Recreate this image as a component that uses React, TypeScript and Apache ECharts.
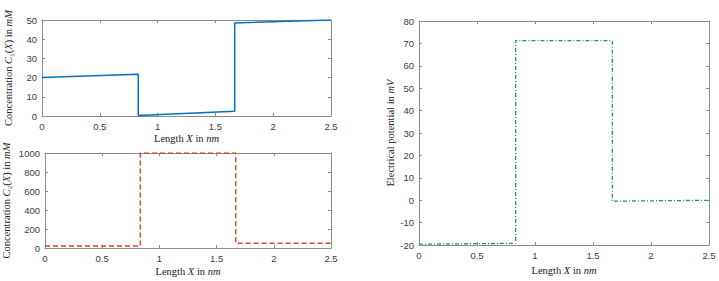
import React, { useEffect, useRef } from "react";
import * as echarts from "echarts";

const xTicks = [0, 0.5, 1, 1.5, 2, 2.5];
const c1Points: [number, number][] = [
  [0, 20], [0.833, 21.7], [0.833, 0.3], [1.667, 2.5], [1.667, 48.5], [2.5, 50],
];
const c2Points: [number, number][] = [
  [0, 20], [0.833, 20], [0.833, 1000], [1.667, 1000], [1.667, 50], [2.5, 50],
];
const phiPoints: [number, number][] = [
  [0, -19.6], [0.833, -19.2], [0.833, 71.2], [1.667, 71.2], [1.667, -0.4], [2.5, 0],
];

const AX = "#8a8a8a";
const LBL = "#3c3c3c";
const SERIF = "Liberation Serif, DejaVu Serif, serif";
const SANS = "Liberation Sans, Arial, sans-serif";

const rich = {
  i: { fontStyle: "italic", fontFamily: SERIF, fontSize: 10.5, color: "#222" },
};

function xPair(grid: number, gap: number) {
  const base = {
    type: "value" as const,
    gridIndex: grid,
    min: xTicks[0],
    max: xTicks[xTicks.length - 1],
    interval: 0.5,
    splitLine: { show: false },
    axisLine: { show: true, onZero: false, lineStyle: { color: AX, width: 1 } },
    axisTick: { show: true, inside: true, length: 3, lineStyle: { color: AX } },
  };
  return [
    {
      ...base,
      position: "bottom",
      axisLabel: { color: LBL, fontFamily: SANS, fontSize: 9.5, margin: 5 },
      name: "Length {i|X} in {i|nm}",
      nameLocation: "middle",
      nameGap: gap,
      nameTextStyle: { fontFamily: SERIF, fontSize: 10.5, color: "#222", rich },
    },
    { ...base, position: "top", axisLabel: { show: false } },
  ];
}

function yPair(grid: number, min: number, max: number, interval: number, name: string, gap: number) {
  const base = {
    type: "value" as const,
    gridIndex: grid,
    min,
    max,
    interval,
    splitLine: { show: false },
    axisLine: { show: true, onZero: false, lineStyle: { color: AX, width: 1 } },
    axisTick: { show: true, inside: true, length: 3, lineStyle: { color: AX } },
  };
  return [
    {
      ...base,
      position: "left",
      axisLabel: {
        color: LBL,
        fontFamily: SANS,
        fontSize: 9.5,
        margin: 5,
        formatter: (v: number) => String(v),
      },
      name,
      nameLocation: "middle",
      nameGap: gap,
      nameRotate: 90,
      nameTextStyle: { fontFamily: SERIF, fontSize: 10.5, color: "#222", rich },
    },
    { ...base, position: "right", axisLabel: { show: false } },
  ];
}

export default function App() {
  const ref = useRef<HTMLDivElement>(null);
  useEffect(() => {
    if (!ref.current) return;
    const chart = echarts.init(ref.current, undefined, { renderer: "svg" });
    chart.setOption({
      animation: false,
      backgroundColor: "#ffffff",
      grid: [
        { left: 42, width: 289, top: 20, height: 96 },
        { left: 42, width: 289, top: 153, height: 95 },
        { left: 419, width: 290, top: 21, height: 226 },
      ],
      xAxis: [...xPair(0, 17), ...xPair(1, 18), ...xPair(2, 19)],
      yAxis: [
        ...yPair(0, 0, 50, 10, "Concentration {i|C}₁({i|X}) in {i|mM}", 28),
        ...yPair(1, 0, 1000, 200, "Concentration {i|C}₂({i|X}) in {i|mM}", 33),
        ...yPair(2, -20, 80, 10, "Electrical potential in {i|mV}", 22),
      ],
      series: [
        {
          type: "line",
          xAxisIndex: 0,
          yAxisIndex: 0,
          data: c1Points,
          showSymbol: false,
          lineStyle: { color: "#0072BD", width: 1.5 },
        },
        {
          type: "line",
          xAxisIndex: 2,
          yAxisIndex: 2,
          data: c2Points,
          showSymbol: false,
          lineStyle: { color: "#E2462A", width: 1.5, type: [5, 3] },
        },
        {
          type: "line",
          xAxisIndex: 4,
          yAxisIndex: 4,
          data: phiPoints,
          showSymbol: false,
          lineStyle: { color: "#13A05E", width: 1.3, type: [4, 2, 1, 2] },
        },
      ],
    });
    return () => chart.dispose();
  }, []);
  return <div ref={ref} style={{ width: 719, height: 281, position: "absolute", left: 0, top: 0 }} />;
}
